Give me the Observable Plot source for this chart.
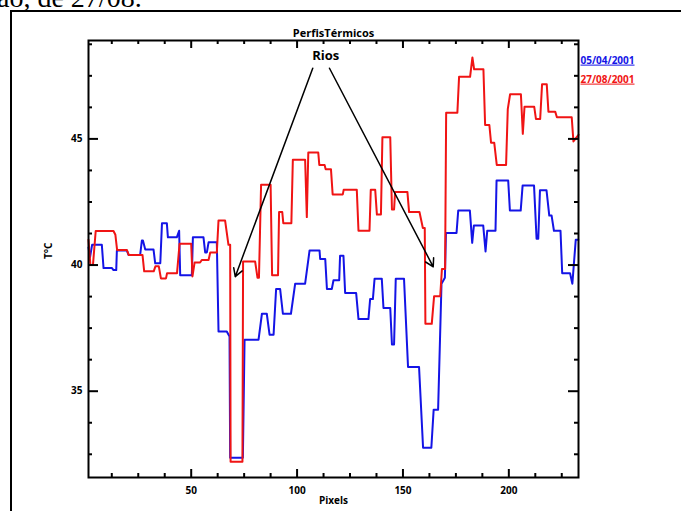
<!DOCTYPE html>
<html><head><meta charset="utf-8">
<script src="https://cdn.jsdelivr.net/npm/d3@7"></script>
<script src="https://cdn.jsdelivr.net/npm/@observablehq/plot@0.6"></script>
<style>
html,body{margin:0;padding:0;background:#fff;width:681px;height:511px;overflow:hidden;}
#wrap{position:relative;width:681px;height:511px;overflow:hidden;}
#doc{position:absolute;left:-3px;top:-17px;font-family:"Liberation Serif","Times New Roman",serif;font-size:28px;white-space:nowrap;color:#000;line-height:30px;}
#box{position:absolute;left:10px;top:10px;width:700px;height:600px;border-left:2px solid #000;border-top:2px solid #000;}
#chart{position:absolute;left:0;top:0;}
</style></head><body>
<div id="wrap"><div id="doc">ão, de 27/08.</div><div id="box"></div><div id="chart"></div></div>
<script>
// Tick values
const xMajor = [50, 100, 150, 200];
const xMinor = [12.5, 25, 37.5, 62.5, 75, 87.5, 112.5, 125, 137.5, 162.5, 175, 187.5, 212.5, 225];
const yMajor = [35, 40, 45];
const yMinor = [32.5, 33.75, 36.25, 37.5, 38.75, 41.25, 42.5, 43.75, 46.25, 47.5, 48.75];

// Series: [pixel, °C]
const perfil0504 = [[1.5,40.7],[2.2,40.3],[3.2,40.8],[7.8,40.8],[8.6,39.88],[12.6,39.88],[13.3,39.8],[14.6,39.8],[14.9,40.58],[19.6,40.58],[20.4,40.4],[25.9,40.4],[26.7,40.97],[27.2,40.97],[28.3,40.62],[32.2,40.62],[33,40.07],[35.4,40.07],[36.2,41.66],[38.5,41.66],[39,41.1],[43.2,41.1],[44.3,41.36],[44.8,39.6],[50.3,39.6],[50.8,41.1],[55.8,41.1],[56.6,40.5],[57.4,40.5],[58.2,40.9],[62.1,40.9],[62.9,37.37],[66.8,37.37],[68.1,37.17],[68.4,32.36],[74.4,32.36],[75.2,37.04],[81.8,37.04],[83.4,38.07],[85.7,38.07],[87,37.24],[88.9,37.24],[90.1,39.05],[92,39.05],[93.3,38.07],[97.1,38.07],[99.1,39.26],[103.8,39.26],[105.9,40.58],[110.6,40.58],[110.9,40.24],[113.3,40.24],[114.1,39.05],[116.4,39.05],[117.2,39.4],[119.9,39.4],[120.3,40.37],[121.9,40.37],[122.7,38.89],[127.9,38.89],[129,37.86],[133.7,37.86],[134.5,38.65],[135.8,38.65],[136.6,39.46],[140,39.46],[140.8,38.3],[144,38.3],[144.8,36.85],[145.8,36.85],[146.6,39.46],[150.5,39.46],[152.4,35.96],[157.6,35.96],[159.5,32.76],[163.4,32.76],[164.5,34.27],[166.6,34.27],[168.2,39.26],[169.8,39.5],[170.3,41.27],[175.3,41.27],[176.1,42.16],[181.6,42.16],[182.7,40.88],[183.5,41.57],[187.9,41.57],[189,40.54],[189.8,41.36],[193.7,41.36],[194.2,43.35],[199.7,43.35],[200.5,42.16],[205.6,42.16],[206.5,43.15],[211.9,43.15],[213.1,41.04],[213.9,41.04],[214.7,42.96],[217.8,42.96],[219.1,41.96],[220.2,41.96],[221.3,41.36],[224.4,41.36],[225.2,39.68],[228.9,39.68],[230,39.26],[231.6,41.0],[232.8,41.0]];
const perfil2708 = [[1.5,41.0],[2.4,40.0],[3.6,40.0],[4.9,41.35],[13.3,41.35],[14.2,41.2],[15,40.6],[19.6,40.6],[20.5,40.4],[27,40.4],[27.8,39.75],[32.3,39.75],[33.1,39.95],[34.7,39.95],[35.7,39.47],[38.1,39.47],[38.6,39.68],[43.3,39.68],[44.5,40.84],[50,40.84],[50.6,39.55],[51.6,40.1],[54.2,40.1],[55,40.2],[58.2,40.2],[59,40.5],[62.1,40.5],[62.9,41.77],[66,41.77],[67.6,40.8],[68.4,40.8],[68.6,32.2],[74.2,32.2],[74.5,40.14],[80.2,40.14],[81.3,39.5],[82,39.5],[83,43.18],[87.5,43.18],[88.2,39.6],[91,39.6],[91.5,42.1],[93,42.1],[93.5,41.66],[97.3,41.66],[98,44.17],[103.8,44.17],[104.6,41.9],[105.3,44.46],[110,44.46],[110.5,43.97],[113,43.97],[113.5,43.8],[116,43.8],[116.8,42.8],[121.6,42.8],[122,42.98],[128.2,42.98],[129,41.36],[134.2,41.36],[134.8,42.98],[136.9,42.98],[137.7,42.0],[139.6,42.0],[140.3,45.07],[144,45.07],[144.8,42.2],[145.8,42.2],[146.3,42.9],[152.1,42.9],[152.9,42.1],[157.8,42.1],[159.4,41.47],[160.3,41.47],[160.6,37.67],[163.6,37.67],[164.7,38.76],[167.6,38.76],[168.4,39.84],[169.9,39.84],[170.4,46.04],[175.7,46.04],[176.5,47.46],[181.7,47.46],[182.8,48.23],[183.6,47.76],[188,47.76],[188.8,45.55],[190.8,45.55],[191.6,44.85],[193.1,44.85],[194.3,43.97],[198.7,43.97],[199.5,46.18],[200.6,46.77],[205.7,46.77],[206.6,45.2],[207.4,46.27],[212,46.27],[212.8,45.79],[214.8,45.79],[215.7,47.17],[217.9,47.17],[218.7,46.08],[221.9,46.08],[222.7,45.86],[229.7,45.86],[230.5,44.9],[232.9,45.16]];

const seriesNames = ["05/04/2001", "27/08/2001"];
const seriesColors = ["#1414e6", "#f01414"];

// Annotation
const riosLabel = [{x: 113.5, y: 48.29, text: "Rios"}];
const riosArrows = [{x1: 107.4, y1: 47.8, x2: 70.8, y2: 39.54}, {x1: 115.3, y1: 47.8, x2: 164.3, y2: 39.93}];

const W = 681, H = 511, mL = 88, mR = 103, mT = 40, mB = 34;
const pw = W - mL - mR, ph = H - mT - mB;

const blue = perfil0504.map(([x, v]) => ({x, v}));
const red = perfil2708.map(([x, v]) => ({x, v}));

const chart = Plot.plot({
  width: W, height: H, marginLeft: mL, marginRight: mR, marginTop: mT, marginBottom: mB,
  x: {domain: [1.5, 232.9]},
  y: {domain: [31.58, 48.9]},
  style: {fontFamily: "'Open Sans', sans-serif", fontWeight: "bold", fontSize: "10px", background: "transparent", color: "#000", overflow: "visible"},
  marks: [
    Plot.line(blue, {x: "x", y: "v", stroke: seriesColors[0], strokeWidth: 2}),
    Plot.line(red, {x: "x", y: "v", stroke: seriesColors[1], strokeWidth: 2}),
    // inward ticks
    Plot.ruleX(xMajor, {insetTop: ph - 8, stroke: "#000", strokeWidth: 2}),
    Plot.ruleX(xMinor, {insetTop: ph - 4, stroke: "#000", strokeWidth: 2}),
    Plot.ruleX(xMajor, {insetBottom: ph - 8, stroke: "#000", strokeWidth: 2}),
    Plot.ruleX(xMinor, {insetBottom: ph - 4, stroke: "#000", strokeWidth: 2}),
    Plot.ruleY(yMajor, {insetRight: pw - 10, stroke: "#000", strokeWidth: 2}),
    Plot.ruleY(yMinor, {insetRight: pw - 4, stroke: "#000", strokeWidth: 2}),
    Plot.ruleY(yMajor, {insetLeft: pw - 10, stroke: "#000", strokeWidth: 2}),
    Plot.ruleY(yMinor, {insetLeft: pw - 4, stroke: "#000", strokeWidth: 2}),
    Plot.frame({stroke: "#000", strokeWidth: 2}),
    Plot.axisX(xMajor, {tickSize: 0, tickPadding: 9, label: null, fontWeight: "bold"}),
    Plot.axisY(yMajor, {tickSize: 0, tickPadding: 6, label: null, fontWeight: "bold"}),
    Plot.text(["Pixels"], {frameAnchor: "bottom", dy: 26, fontWeight: "bold"}),
    Plot.text(["T°C"], {frameAnchor: "left", dx: -40, rotate: -90, fontWeight: "bold"}),
    Plot.text(["PerfisTérmicos"], {frameAnchor: "top", dy: -11, fontSize: 11, fontWeight: "bold"}),
    Plot.text([seriesNames[0]], {frameAnchor: "top-right", dx: 2, dy: 16, textAnchor: "start", fill: seriesColors[0], fontWeight: "bold"}),
    Plot.text([seriesNames[1]], {frameAnchor: "top-right", dx: 2, dy: 35, textAnchor: "start", fill: seriesColors[1], fontWeight: "bold"}),
    Plot.arrow(riosArrows, {x1: "x1", y1: "y1", x2: "x2", y2: "y2", stroke: "#000", strokeWidth: 1.5, headLength: 9}),
    Plot.text(riosLabel, {x: "x", y: "y", text: "text", fontSize: 13, fontWeight: "bold"})
  ]
});
d3.select(chart).selectAll("text").filter(function() { return /2001/.test(this.textContent); })
  .attr("text-decoration", "underline");
document.getElementById("chart").appendChild(chart);
</script></body></html>
